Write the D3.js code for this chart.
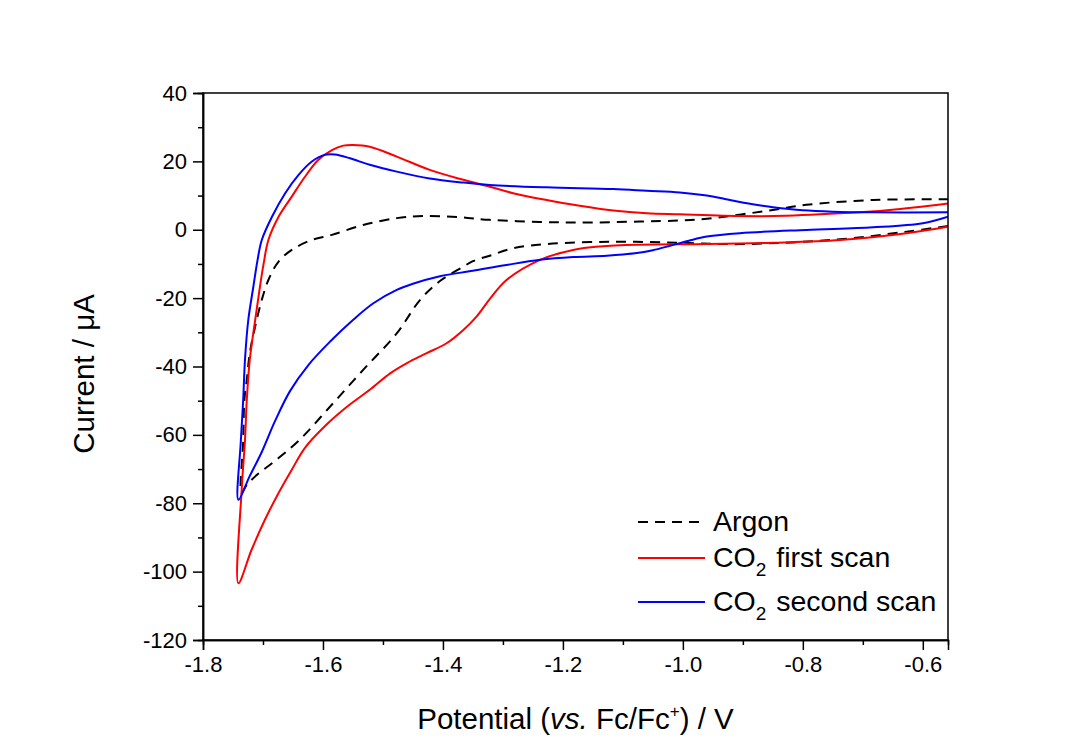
<!DOCTYPE html>
<html><head><meta charset="utf-8">
<script src="https://cdn.jsdelivr.net/npm/d3@7"></script>
<style>
html,body{margin:0;padding:0;background:#fff;}
text{font-family:"Liberation Sans",Arial,sans-serif;fill:#000;}
</style></head>
<body><svg id="chart" width="1085" height="756"></svg>
<script>
// ---- data (Potential V vs Fc/Fc+, Current µA) ----
const argon = [
[-0.558,1.1],[-0.627,-0.55],[-0.738,-2.8],[-0.905,-4.2],[-1.005,-3.8],[-1.116,-3.5],[-1.227,-4.2],[-1.283,-5.4],
[-1.322,-7.6],[-1.35,-9.2],[-1.366,-10.8],[-1.405,-15],[-1.438,-20.5],[-1.477,-30.3],[-1.533,-41],[-1.588,-51.7],
[-1.641,-61.8],[-1.68,-67.6],[-1.708,-71.4],[-1.727,-74.6],[-1.736,-77],
[-1.733,-62],[-1.731,-49.8],[-1.727,-43.9],[-1.722,-36.1],[-1.713,-28.3],[-1.702,-20.5],[-1.691,-14.7],[-1.674,-9.3],
[-1.652,-5.9],[-1.619,-3],[-1.585,-1.5],[-1.533,1.4],[-1.477,3.4],[-1.433,4.0],[-1.377,3.7],[-1.322,2.9],
[-1.238,2.3],[-1.172,2.1],[-1.072,2.4],[-1.005,2.7],[-0.96,3.2],[-0.85,5.8],[-0.794,7.3],[-0.683,8.7],[-0.558,8.9]
];
const co2First = [
[-0.558,0.9],[-0.627,-1.0],[-0.738,-3.0],[-0.85,-3.8],[-0.96,-4.2],[-1.072,-4.4],[-1.138,-4.9],[-1.183,-5.9],
[-1.238,-8.8],[-1.294,-14.7],[-1.322,-20.3],[-1.344,-25.4],[-1.366,-29.3],[-1.394,-33.2],[-1.427,-36.1],[-1.46,-39],
[-1.488,-42],[-1.522,-46.8],[-1.56,-51.8],[-1.597,-57.5],[-1.63,-63.8],[-1.652,-70.2],[-1.674,-77],[-1.697,-84.9],
[-1.719,-93.6],[-1.741,-103.4],
[-1.7355,-76],[-1.73,-61.5],[-1.727,-49.8],[-1.722,-38],[-1.713,-26.4],[-1.705,-16.6],[-1.699,-10],[-1.691,-3],
[-1.674,3.8],[-1.652,9.7],[-1.63,15.5],[-1.608,20.4],[-1.585,23.3],[-1.566,24.6],[-1.55,24.8],[-1.522,24.3],
[-1.477,21.4],[-1.422,17.5],[-1.366,14.6],[-1.322,12.6],[-1.283,10.7],[-1.227,8.7],[-1.172,7],[-1.116,5.6],
[-1.06,4.8],[-1.005,4.5],[-0.933,4.1],[-0.85,4],[-0.738,4.8],[-0.655,5.8],[-0.558,7.7]
];
const co2Second = [
[-0.558,3.8],[-0.6,1.9],[-0.683,0.7],[-0.794,-0.05],[-0.905,-1.0],[-0.96,-2.0],[-0.99,-3.2],[-1.02,-4.6],
[-1.05,-6.0],[-1.08,-6.9],[-1.127,-7.6],[-1.183,-8],[-1.238,-8.8],[-1.294,-10.3],[-1.35,-12],[-1.405,-13.6],
[-1.45,-15.8],[-1.477,-17.6],[-1.516,-21.5],[-1.55,-26.4],[-1.588,-32.7],[-1.624,-39.5],[-1.655,-47.2],
[-1.68,-56],[-1.702,-65],[-1.722,-72],[-1.741,-79],
[-1.737,-62],[-1.733,-49.8],[-1.73,-38],[-1.7245,-26.4],[-1.716,-16.6],[-1.709,-8.8],[-1.702,-3],[-1.685,3.8],
[-1.663,10.7],[-1.641,16],[-1.619,19.9],[-1.597,21.9],[-1.58,22],[-1.555,20.9],[-1.522,19],[-1.477,17],
[-1.422,15],[-1.366,13.8],[-1.322,13.1],[-1.227,12.4],[-1.116,11.9],[-1.06,11.4],[-1.005,10.9],[-0.96,10.0],
[-0.93,9.0],[-0.905,8.1],[-0.87,7.1],[-0.85,6.6],[-0.8,5.7],[-0.75,5.3],[-0.683,5.1],[-0.558,5.1]
];
const xTicks = [-1.8,-1.6,-1.4,-1.2,-1.0,-0.8,-0.6];
const xTickLabels = ["-1.8","-1.6","-1.4","-1.2","-1.0","-0.8","-0.6"];
const yTicks = [-120,-100,-80,-60,-40,-20,0,20,40];
const yTickLabels = ["-120","-100","-80","-60","-40","-20","0","20","40"];
const legendLabels = ["Argon","CO2 first scan","CO2 second scan"];
const seriesColors = ["#000000","#ff0000","#0000ff"];

// ---- layout ----
const L=203, R=948, T=93, B=640;
const svg=d3.select("#chart");
const x=d3.scaleLinear().domain([-1.8,-0.558]).range([L,R]);
const y=d3.scaleLinear().domain([-120,40]).range([B,T]);

svg.append("clipPath").attr("id","clp").append("rect")
 .attr("x",L).attr("y",T).attr("width",R-L).attr("height",B-T);

const line=d3.line().x(d=>x(d[0])).y(d=>y(d[1])).curve(d3.curveCatmullRom.alpha(0.5));
const g=svg.append("g").attr("clip-path","url(#clp)");
g.append("path").datum(argon).attr("d",line).attr("fill","none").attr("stroke","#000").attr("stroke-width",2).attr("stroke-dasharray","10,7");
g.append("path").datum(co2First).attr("d",line).attr("fill","none").attr("stroke","#ff0000").attr("stroke-width",2);
g.append("path").datum(co2Second).attr("d",line).attr("fill","none").attr("stroke","#0000ff").attr("stroke-width",2);

// frame
svg.append("rect").attr("x",L).attr("y",T).attr("width",R-L).attr("height",B-T)
 .attr("fill","none").attr("stroke","#000").attr("stroke-width",1.5);

// axes
const xAxis=d3.axisBottom(x).tickValues(xTicks).tickFormat((d,i)=>xTickLabels[i]).tickSize(10).tickPadding(6);
svg.append("g").attr("transform",`translate(0,${B})`).call(xAxis);
const xMinor=d3.axisBottom(x).tickValues(d3.range(-1.7,-0.55,0.2)).tickFormat("").tickSize(5);
svg.append("g").attr("transform",`translate(0,${B})`).call(xMinor);
const yAxis=d3.axisLeft(y).tickValues(yTicks).tickFormat((d,i)=>yTickLabels[i]).tickSize(10).tickPadding(6);
svg.append("g").attr("transform",`translate(${L},0)`).call(yAxis);
const yMinor=d3.axisLeft(y).tickValues(d3.range(-110,40,20)).tickFormat("").tickSize(5);
svg.append("g").attr("transform",`translate(${L},0)`).call(yMinor);
svg.selectAll(".domain").attr("stroke","#000").attr("stroke-width",1.5);
svg.selectAll(".tick line").attr("stroke","#000").attr("stroke-width",1.5);
svg.selectAll(".tick text").attr("font-family","Liberation Sans, Arial, sans-serif").attr("font-size",22);

// axis titles
svg.append("text").attr("x",(L+R)/2).attr("y",729).attr("text-anchor","middle").attr("font-size",29.5)
 .call(t=>{
   t.append("tspan").text("Potential (");
   t.append("tspan").attr("font-style","italic").text("vs.");
   t.append("tspan").text(" Fc/Fc");
   t.append("tspan").attr("font-size",17).attr("dy",-12).text("+");
   t.append("tspan").attr("dy",12).text(") / V");
 });
svg.append("text").attr("transform",`translate(94,374) rotate(-90)`).attr("text-anchor","middle")
 .attr("font-size",29.5).text("Current / \u03bcA");

// legend
const legY=[522,558,602];
legendLabels.forEach((lab,i)=>{
  const ly=legY[i];
  svg.append("line").attr("x1",638).attr("x2",705).attr("y1",ly).attr("y2",ly)
    .attr("stroke",seriesColors[i]).attr("stroke-width",2).attr("stroke-dasharray",i===0?"10,7":null);
  const t=svg.append("text").attr("x",713).attr("y",ly+9).attr("font-size",28.5);
  if(lab.startsWith("CO2")){
    t.append("tspan").text("CO");
    t.append("tspan").attr("font-size",19).attr("dy",9).text("2");
    t.append("tspan").attr("dy",-9).attr("dx",2).text(lab.slice(3));
  } else t.text(lab);
});
</script></body></html>
